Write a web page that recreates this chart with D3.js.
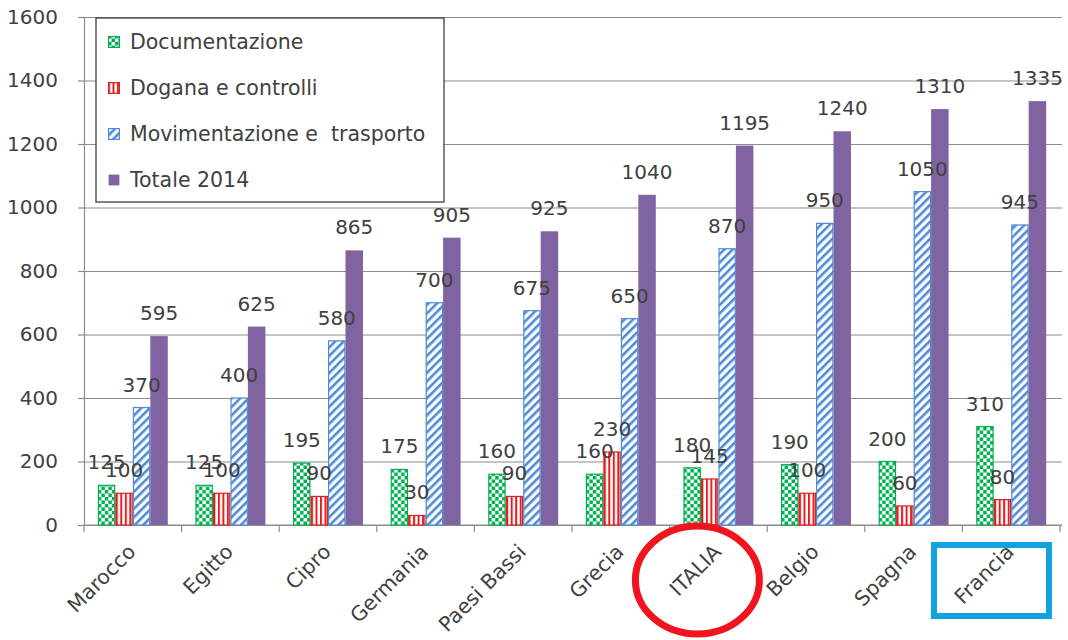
<!DOCTYPE html>
<html>
<head>
<meta charset="utf-8">
<script src="https://cdn.jsdelivr.net/npm/d3@7"></script>
<style>
  html, body { margin: 0; padding: 0; background: #fff; }
  svg text { font-family: "DejaVu Sans", sans-serif; fill: #404040; }
</style>
</head>
<body>
<svg id="chart" width="1068" height="640"></svg>
<script>
// Costi per paese (USD per container)
const categories = ["Marocco", "Egitto", "Cipro", "Germania", "Paesi Bassi", "Grecia", "ITALIA", "Belgio", "Spagna", "Francia"];
const seriesNames = ["Documentazione", "Dogana e controlli", "Movimentazione e  trasporto", "Totale 2014"];
const documentazione = [125, 125, 195, 175, 160, 160, 180, 190, 200, 310];
const dogana = [100, 100, 90, 30, 90, 230, 145, 100, 60, 80];
const movimentazione = [370, 400, 580, 700, 675, 650, 870, 950, 1050, 945];
const totale = [595, 625, 865, 905, 925, 1040, 1195, 1240, 1310, 1335];
const yTicks = [0, 200, 400, 600, 800, 1000, 1200, 1400, 1600];

const seriesValues = [documentazione, dogana, movimentazione, totale];
const fills = ["url(#pat-doc)", "url(#pat-dog)", "url(#pat-mov)", "#8064A2"];
const strokes = ["#00B050", "#E02020", "#4F8BD6", "none"];

const svg = d3.select("#chart");
const defs = svg.append("defs");

// Checkerboard pattern (green)
const pDoc = defs.append("pattern").attr("id", "pat-doc").attr("patternUnits", "userSpaceOnUse")
  .attr("width", 7).attr("height", 7);
pDoc.append("rect").attr("width", 7).attr("height", 7).attr("fill", "#fff");
pDoc.append("rect").attr("width", 3.5).attr("height", 3.5).attr("fill", "#00B050");
pDoc.append("rect").attr("x", 3.5).attr("y", 3.5).attr("width", 3.5).attr("height", 3.5).attr("fill", "#00B050");

// Vertical stripes (red)
const pDog = defs.append("pattern").attr("id", "pat-dog").attr("patternUnits", "userSpaceOnUse")
  .attr("width", 4.5).attr("height", 4);
pDog.append("rect").attr("width", 4.5).attr("height", 4).attr("fill", "#fff");
pDog.append("rect").attr("width", 2).attr("height", 4).attr("fill", "#E02020");

// Diagonal stripes (blue)
const pMov = defs.append("pattern").attr("id", "pat-mov").attr("patternUnits", "userSpaceOnUse")
  .attr("width", 6).attr("height", 6).attr("patternTransform", "rotate(45)");
pMov.append("rect").attr("width", 6).attr("height", 6).attr("fill", "#fff");
pMov.append("rect").attr("width", 2.6).attr("height", 6).attr("fill", "#4F8BD6");

const plotLeft = 84, plotRight = 1060, plotTop = 17, plotBottom = 525;

const x = d3.scaleBand().domain(categories).range([plotLeft, plotRight])
  .paddingInner(0.283).paddingOuter(0.1415);
const x1 = d3.scaleBand().domain(d3.range(seriesNames.length)).range([0, x.bandwidth()]);
const y = d3.scaleLinear().domain([0, 1600]).range([plotBottom, plotTop]);

// Gridlines
svg.append("g")
  .attr("transform", `translate(${plotLeft},0)`)
  .call(d3.axisLeft(y).tickValues(yTicks).tickSize(-(1062 - plotLeft)).tickFormat(""))
  .call(g => g.select(".domain").remove())
  .call(g => g.selectAll("line").attr("stroke", "#8C8C8C").attr("stroke-width", 1.2));

// Y axis
svg.append("g")
  .attr("transform", `translate(${plotLeft},0)`)
  .call(d3.axisLeft(y).tickValues(yTicks).tickSize(6).tickPadding(20).tickFormat(d3.format("d")))
  .call(g => g.select(".domain").attr("stroke", "#8C8C8C").attr("stroke-width", 1.2))
  .call(g => g.selectAll("line").attr("stroke", "#8C8C8C").attr("stroke-width", 1.2))
  .call(g => g.selectAll("text").attr("font-size", 20).attr("fill", "#404040")
    .style("font-family", "DejaVu Sans, sans-serif"));

// X axis line and category separators
const step = x.step();
svg.append("line").attr("x1", plotLeft).attr("x2", 1062).attr("y1", plotBottom).attr("y2", plotBottom)
  .attr("stroke", "#8C8C8C").attr("stroke-width", 1.2);
svg.append("g").selectAll("line")
  .data(d3.range(categories.length + 1))
  .join("line")
  .attr("x1", i => plotLeft + i * step).attr("x2", i => plotLeft + i * step)
  .attr("y1", plotBottom).attr("y2", plotBottom + 7)
  .attr("stroke", "#8C8C8C").attr("stroke-width", 1.2);

// Bars
const groups = svg.append("g").selectAll("g")
  .data(categories)
  .join("g")
  .attr("transform", d => `translate(${x(d)},0)`);

groups.selectAll("rect")
  .data((d, ci) => seriesValues.map((vals, si) => ({ si, v: vals[ci] })))
  .join("rect")
  .attr("x", d => x1(d.si) + (d.si === 3 ? 0 : 0.6))
  .attr("width", d => x1.bandwidth() - (d.si === 3 ? 0 : 1.2))
  .attr("y", d => y(d.v))
  .attr("height", d => plotBottom - y(d.v))
  .attr("fill", d => fills[d.si])
  .attr("stroke", d => strokes[d.si])
  .attr("stroke-width", 1.2);

// Value labels
groups.selectAll("text.val")
  .data((d, ci) => seriesValues.map((vals, si) => ({ si, v: vals[ci] })))
  .join("text")
  .attr("class", "val")
  .attr("x", d => x1(d.si) + x1.bandwidth() / 2)
  .attr("y", d => y(d.v) - 16)
  .attr("text-anchor", "middle")
  .attr("font-size", 20)
  .text(d => d.v);

// Category labels
svg.append("g").selectAll("text")
  .data(categories)
  .join("text")
  .attr("transform", d => `translate(${x(d) + x.bandwidth() / 2 + 4},${plotBottom + 28}) rotate(-45)`)
  .attr("text-anchor", "end")
  .attr("font-size", 20.5)
  .text(d => d);

// Legend
const lg = svg.append("g");
lg.append("rect").attr("x", 96).attr("y", 18).attr("width", 348).attr("height", 184)
  .attr("fill", "#fff").attr("stroke", "#404040").attr("stroke-width", 1.3);
const items = lg.selectAll("g.item").data(seriesNames).join("g")
  .attr("transform", (d, i) => `translate(108,${42 + i * 46})`);
items.append("rect").attr("x", 0.6).attr("y", -5.4).attr("width", 10.8).attr("height", 10.8)
  .attr("fill", (d, i) => fills[i]).attr("stroke", (d, i) => strokes[i]).attr("stroke-width", 1.2);
items.append("text").attr("x", 22).attr("y", 7).attr("font-size", 20.5)
  .style("white-space", "pre").text(d => d);

// Highlights
svg.append("ellipse").attr("cx", x("ITALIA") + x.bandwidth() / 2 - 21).attr("cy", 580)
  .attr("rx", 62).attr("ry", 54).attr("fill", "none").attr("stroke", "#F0141E").attr("stroke-width", 7);
svg.append("rect").attr("x", 934).attr("y", 545).attr("width", 115).attr("height", 71)
  .attr("fill", "none").attr("stroke", "#11A3E0").attr("stroke-width", 6);
</script>
</body>
</html>
